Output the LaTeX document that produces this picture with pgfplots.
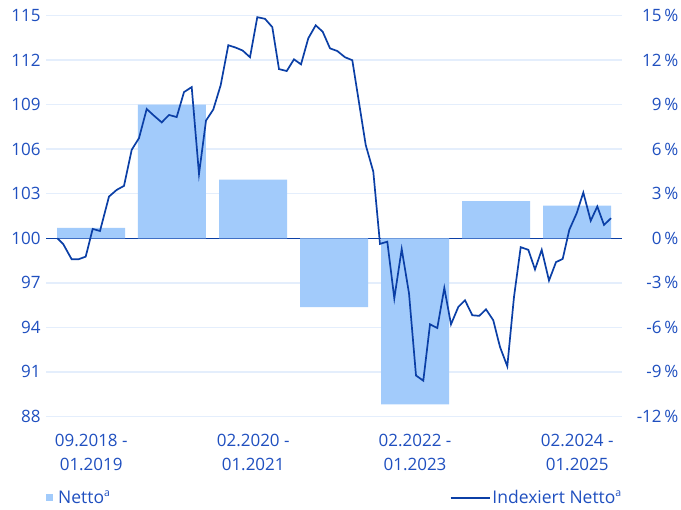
\documentclass[border=0pt]{standalone}
\usepackage{pgfplots}
\usepackage{pgfplotstable}
\pgfplotsset{compat=1.18}
\usepackage{fontspec}
\setmainfont{Open Sans}
\definecolor{barcol}{HTML}{A2CBFB}
\definecolor{linecol}{HTML}{0B3FA6}
\definecolor{txtcol}{HTML}{1F4FBF}
\definecolor{gridcol}{HTML}{E4EEFC}
\newcommand{\supa}{\raisebox{0.42em}{\fontsize{10.5bp}{10.5bp}\selectfont a}}
\pgfplotstableread{
x v
57.3 100.0
63.3 99.6
71.7 98.58
78.3 98.58
85.7 98.76
92.7 100.63
100.0 100.49
109 102.81
116.7 103.26
124 103.53
131.7 105.96
139 106.75
146.7 108.71
154 108.26
161.7 107.81
169 108.31
176.7 108.17
184 109.85
191.7 110.19
199 104.33
206 107.93
213.3 108.68
220.7 110.32
228.3 113.01
235.7 112.85
242.7 112.65
250 112.2
257.3 114.9
265 114.79
272.3 114.23
279 111.4
286.7 111.27
294 112.06
301 111.72
308.3 113.48
315.7 114.35
322.7 113.92
330 112.8
337.3 112.62
345 112.2
352.3 112.0
359.7 108.85
365.7 106.29
373.3 104.49
380 99.62
387.3 99.77
394.3 95.95
401.7 99.27
409 96.29
416 90.75
423.3 90.4
430 94.2
437.3 93.95
444.3 96.65
451 94.2
458.3 95.37
465 95.82
472.3 94.81
479.3 94.77
486 95.21
493.3 94.47
500 92.67
507.3 91.37
514 96.05
520.7 99.4
528.3 99.22
535 97.9
541.7 99.22
549 97.15
556 98.39
562.7 98.61
569.3 100.57
576.7 101.69
583.3 103.08
590.7 101.18
597.3 102.14
604 100.9
611 101.35
}\lineData
\begin{document}
\begin{tikzpicture}[font=\fontsize{17bp}{24bp}\selectfont]
\pgfplotsset{
  base/.style={
    scale only axis, width=576bp, height=400.6bp,
    xmin=46, xmax=622,
    axis line style={draw=none},
    major tick length=0pt,
    tick label style={text=txtcol, font=\fontsize{17bp}{24bp}\selectfont},
    /pgf/number format/assume math mode=true,
  }
}
\begin{axis}[base, name=ax,
  ymin=88, ymax=115, ytick={88,91,...,115},
  xtick=\empty,
  ymajorgrids, grid style={gridcol, line width=1.5bp},
  yticklabel style={xshift=-2bp},
]
\end{axis}
\begin{axis}[base, at={(ax.south west)}, anchor=south west,
  ymin=-12, ymax=15, ytick={-12,-9,...,15},
  yticklabel pos=right,
  yticklabels={-12\,\%,-9\,\%,-6\,\%,-3\,\%,0\,\%,3\,\%,6\,\%,9\,\%,12\,\%,15\,\%},
  yticklabel style={anchor=east, xshift=60bp},
  extra y ticks={0}, extra y tick labels={},
  extra y tick style={ymajorgrids=true, grid style={linecol, line width=1.5bp}},
  xtick={91.2,253.2,415,577.2},
  xticklabels={{09.2018 -\\01.2019},{02.2020 -\\01.2021},{02.2022 -\\01.2023},{02.2024 -\\01.2025}},
  xticklabel style={align=center, yshift=-14bp},
  legend columns=2,
  legend cell align=left,
  legend style={draw=none, fill=none, at={(0,0)}, anchor=north west,
    yshift=-70bp, xshift=-3bp,
    font=\fontsize{17.5bp}{20bp}\selectfont, text=txtcol,
    /tikz/every even column/.append style={column sep=338bp}},
]
\addplot[ybar, bar width=68, bar shift=0pt, fill=barcol, draw=none,
  legend image code/.code={\fill[barcol] (0bp,-3.5bp) rectangle (7bp,3.5bp);}]
  coordinates {(91.2,0.7) (171.9,9.0) (253.2,3.95) (334.2,-4.65) (415,-11.2) (496,2.5) (577.2,2.2)};
\addlegendentry{\hspace{3bp}Netto\supa}
\addplot[linecol, line width=1.7bp, no markers,
  legend image code/.code={\draw[linecol, line width=1.5bp] (0bp,0bp) -- (39bp,0bp);}]
  table[x=x, y expr=\thisrow{v}-100] {\lineData};
\addlegendentry{Indexiert Netto\supa}
\end{axis}
\pgfresetboundingbox
\path[use as bounding box] ([xshift=-46bp,yshift=-93.7bp]ax.south west) rectangle ([xshift=59bp,yshift=15.7bp]ax.north east);
\end{tikzpicture}
\end{document}
